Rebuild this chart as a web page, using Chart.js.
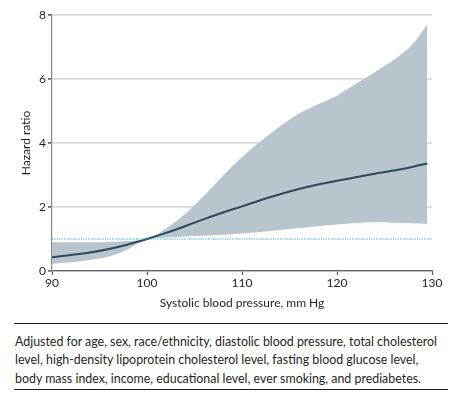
<!DOCTYPE html>
<html>
<head>
<meta charset="utf-8">
<script src="https://cdn.jsdelivr.net/npm/chart.js@4/dist/chart.umd.min.js"></script>
<style>
  html, body { margin: 0; padding: 0; background: #fff; }
  #wrap { position: relative; width: 462px; height: 399px; }
  #chartBox { position: absolute; left: 0; top: 0; width: 462px; height: 310px; }
  #caption {
    position: absolute; left: 14px; top: 323px; width: 434px;
    border-top: 1.3px solid #231f20; border-bottom: 1.3px solid #231f20;
    font-family: Lato, "Open Sans", sans-serif; font-size: 12.4px; line-height: 18.3px;
    color: #231f20; padding: 9px 0 8px 1px; box-sizing: border-box; height: 67px;
    white-space: nowrap;
  }
</style>
</head>
<body>
<div id="wrap">
  <div id="chartBox"><canvas id="c" width="462" height="310"></canvas></div>
  <div id="caption">Adjusted for age, sex, race/ethnicity, diastolic blood pressure, total cholesterol<br>level, high-density lipoprotein cholesterol level, fasting blood glucose level,<br>body mass index, income, educational level, ever smoking, and prediabetes.</div>
</div>
<script>
const sbp = [90, 92, 94, 96, 98, 100, 102, 104, 106, 108, 110, 112, 114, 116, 118, 120, 122, 124, 126, 128, 129.5];
const hazardRatio = [0.43, 0.50, 0.58, 0.69, 0.83, 1.00, 1.19, 1.40, 1.62, 1.83, 2.02, 2.22, 2.40, 2.56, 2.70, 2.82, 2.93, 3.04, 3.14, 3.26, 3.36];
const upperCI = [0.90, 0.90, 0.90, 0.91, 0.94, 1.00, 1.33, 1.78, 2.35, 2.98, 3.56, 4.06, 4.52, 4.92, 5.21, 5.48, 5.85, 6.22, 6.60, 7.10, 7.70];
const lowerCI = [0.22, 0.27, 0.34, 0.45, 0.68, 1.00, 1.05, 1.08, 1.10, 1.13, 1.17, 1.22, 1.28, 1.34, 1.40, 1.45, 1.50, 1.52, 1.51, 1.49, 1.47];
const referenceX = [90, 130];
const referenceHR = [1, 1];
const xTicks = [90, 100, 110, 120, 130];
const yTicks = [0, 2, 4, 6, 8];
const xTitle = 'Systolic blood pressure, mm Hg';
const yTitle = 'Hazard ratio';

const pts = (xs, ys) => xs.map((x, i) => ({ x: x, y: ys[i] }));
const FONT = 'Lato, "Open Sans", sans-serif';
const TXT = '#231f20';

new Chart(document.getElementById('c'), {
  type: 'line',
  data: {
    datasets: [
      { label: 'ref', data: pts(referenceX, referenceHR), borderColor: '#2f9fd0', borderWidth: 1.2,
        borderDash: [1.2, 1.2], pointRadius: 0, fill: false, order: 0 },
      { label: 'HR', data: pts(sbp, hazardRatio), borderColor: '#2b4957', borderWidth: 2,
        pointRadius: 0, fill: false, cubicInterpolationMode: 'monotone', order: 1 },
      { label: 'upper', data: pts(sbp, upperCI), borderWidth: 0, borderColor: 'rgba(0,0,0,0)',
        backgroundColor: '#b9c5cd', pointRadius: 0, fill: '+1', cubicInterpolationMode: 'monotone', order: 2 },
      { label: 'lower', data: pts(sbp, lowerCI), borderWidth: 0, borderColor: 'rgba(0,0,0,0)',
        pointRadius: 0, fill: false, cubicInterpolationMode: 'monotone', order: 3 }
    ]
  },
  options: {
    responsive: false,
    animation: false,
    devicePixelRatio: 1,
    layout: { padding: { left: 0, right: 30, top: 15, bottom: 0 } },
    plugins: { legend: { display: false }, tooltip: { enabled: false } },
    scales: {
      x: {
        type: 'linear', min: 90, max: 130,
        afterBuildTicks: (s) => { s.ticks = xTicks.map(v => ({ value: v })); },
        afterFit: (s) => { s.height = 39; },
        grid: { drawOnChartArea: false, drawTicks: true, tickLength: 4, tickColor: '#555', tickWidth: 1.2 },
        border: { color: '#666', width: 1.2 },
        ticks: { color: TXT, font: { family: FONT, size: 12 }, padding: 1, maxRotation: 0 },
        title: { display: true, text: xTitle, color: TXT, font: { family: FONT, size: 12 }, padding: { top: 4, bottom: 0 } }
      },
      y: {
        min: 0, max: 8,
        afterBuildTicks: (s) => { s.ticks = yTicks.map(v => ({ value: v })); },
        afterFit: (s) => { s.width = 52; },
        grid: { color: '#d9d9d9', lineWidth: 1.8, drawTicks: true, tickLength: 4, tickColor: '#444', tickWidth: 1.4 },
        border: { color: '#888', width: 1.2 },
        ticks: { color: TXT, font: { family: FONT, size: 12 }, padding: 2 },
        title: { display: true, text: yTitle, color: TXT, font: { family: FONT, size: 12 }, padding: { top: 19, bottom: 0 } }
      }
    }
  }
});
</script>
</body>
</html>
